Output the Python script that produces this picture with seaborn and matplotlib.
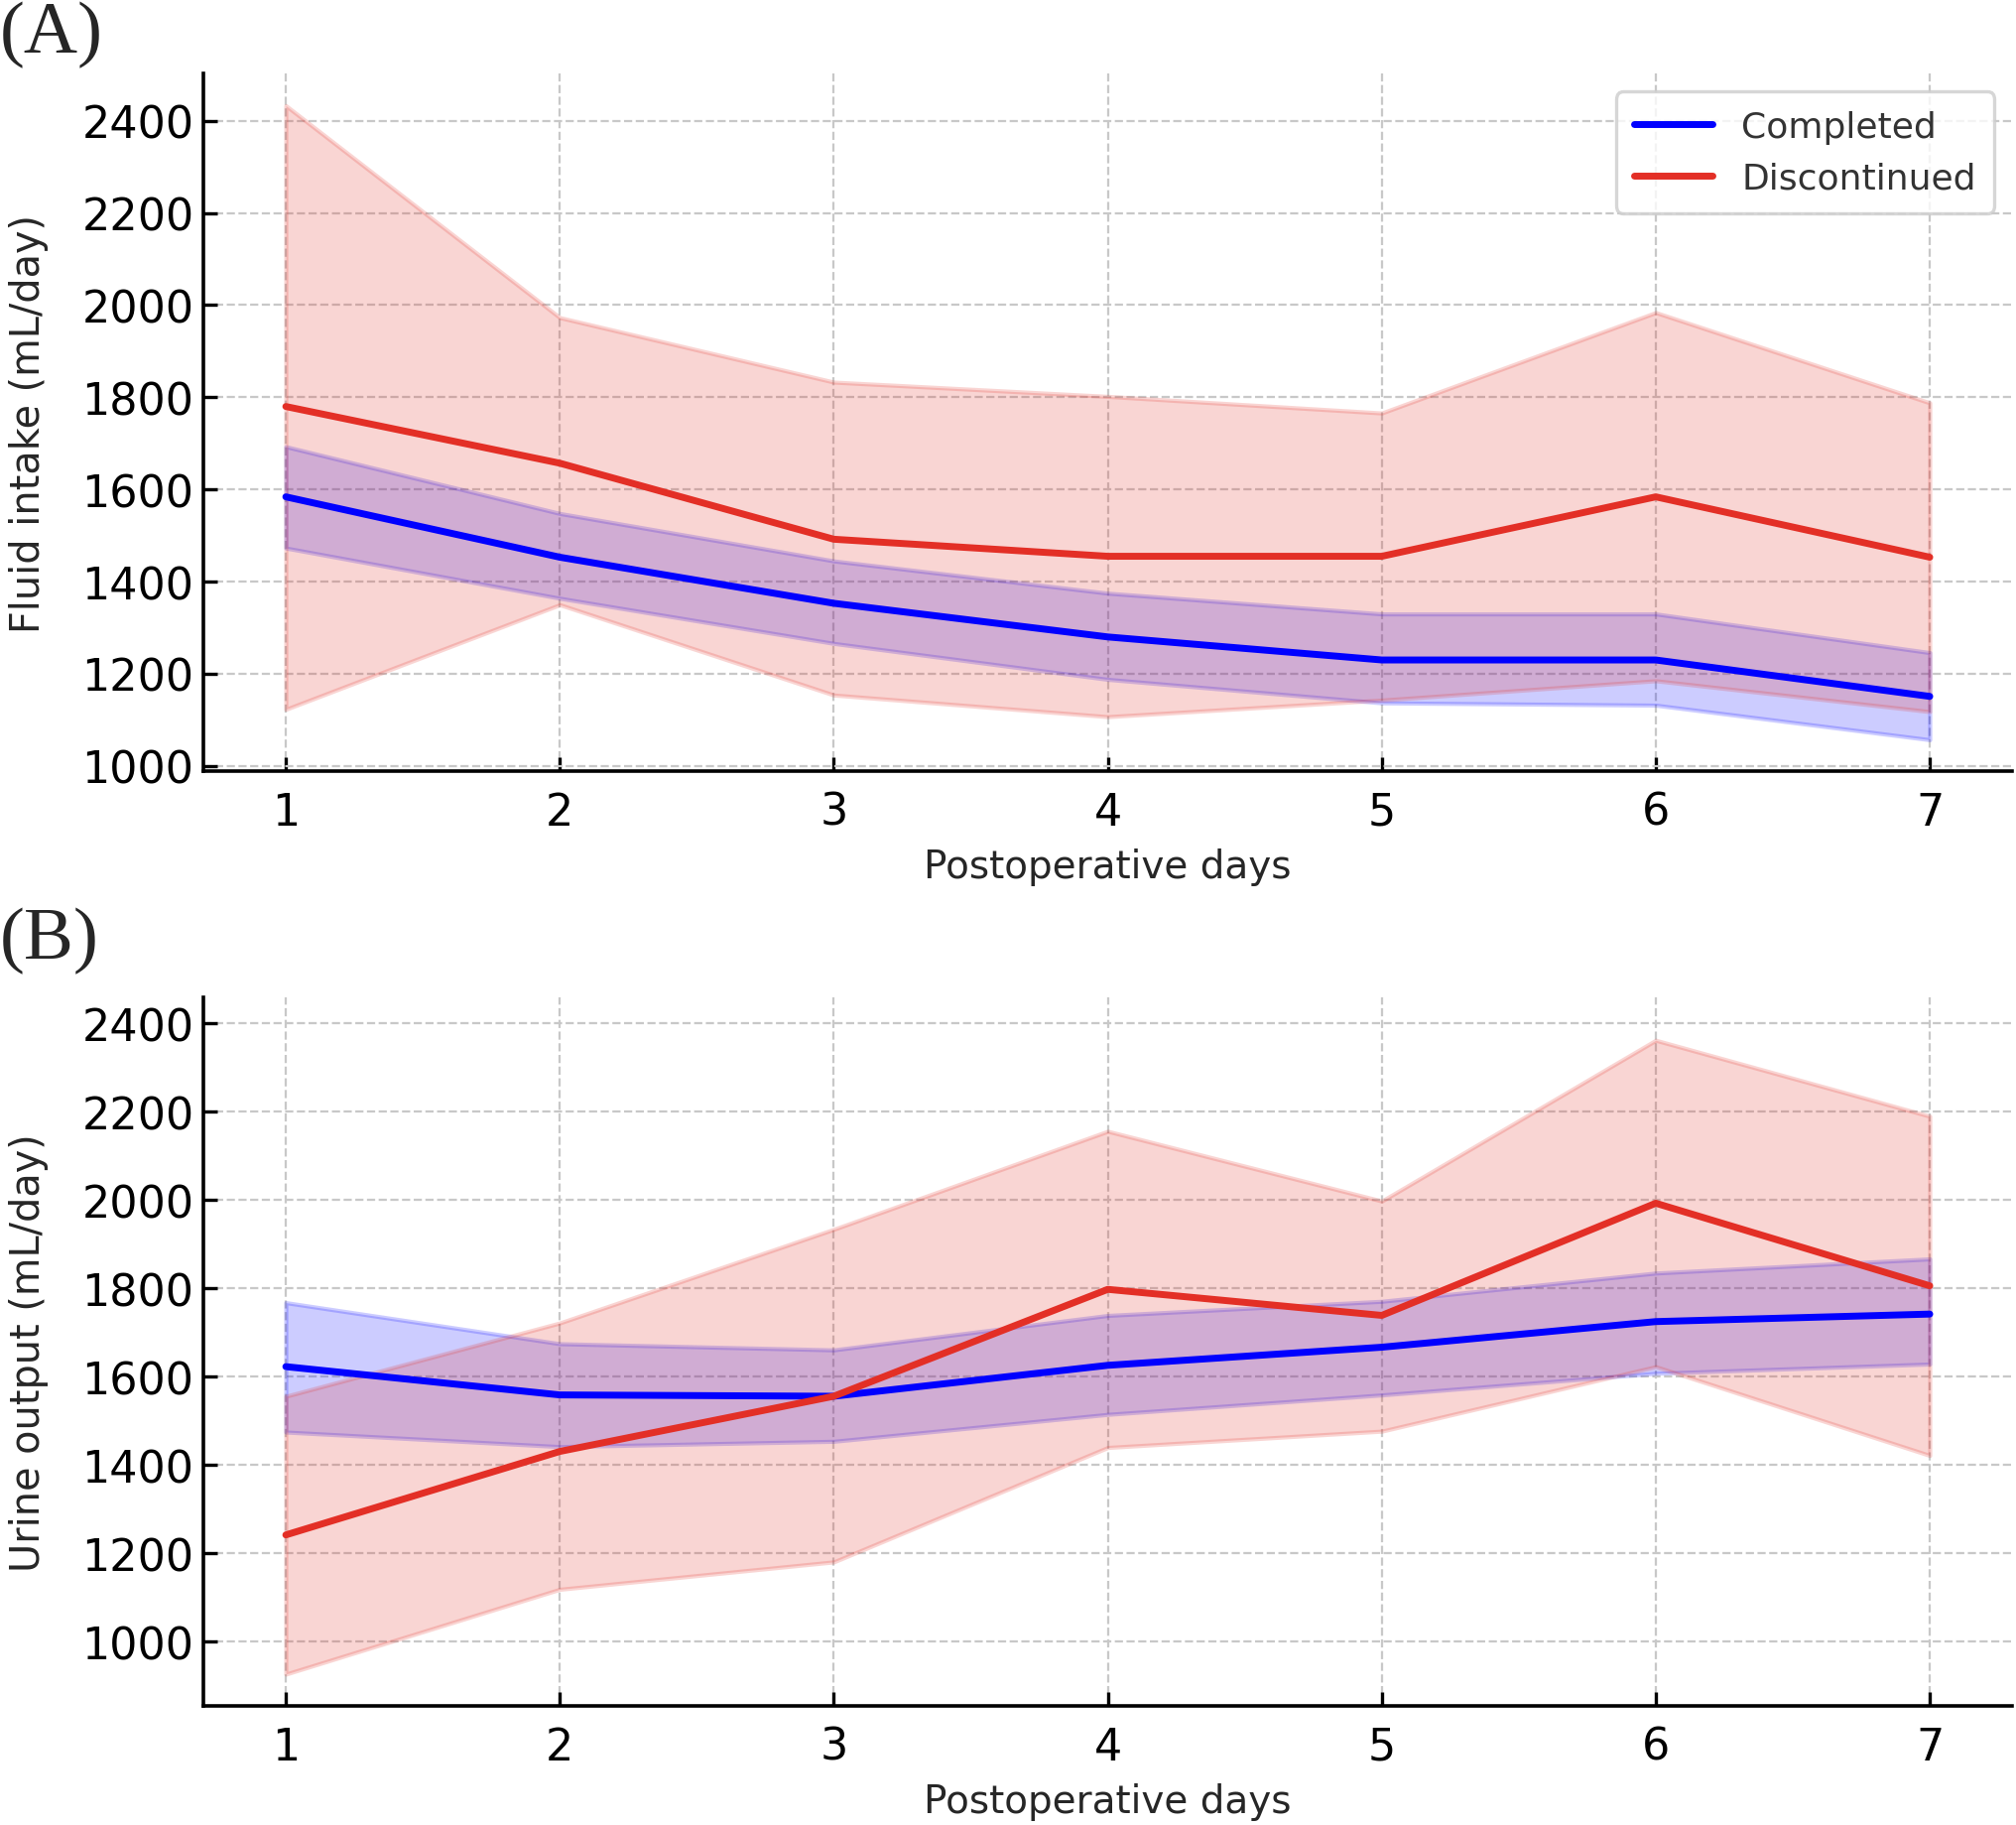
import numpy as np
import pandas as pd
import matplotlib
matplotlib.use("Agg")
import matplotlib.pyplot as plt
import seaborn as sns

days = [1, 2, 3, 4, 5, 6, 7]

# (A) fluid intake
intake_comp_mean = [1584, 1453, 1353, 1280, 1230, 1230, 1151]
intake_comp_upper = [1693, 1548, 1445, 1375, 1330, 1330, 1246]
intake_comp_lower = [1473, 1364, 1266, 1188, 1137, 1132, 1057]
intake_disc_mean = [1780, 1657, 1492, 1455, 1455, 1584, 1453]
intake_disc_upper = [2433, 1973, 1833, 1802, 1766, 1984, 1788]
intake_disc_lower = [1123, 1350, 1154, 1107, 1143, 1185, 1118]

# (B) urine output
urine_comp_mean = [1623, 1559, 1556, 1626, 1667, 1725, 1742]
urine_comp_upper = [1768, 1675, 1661, 1739, 1771, 1835, 1867]
urine_comp_lower = [1475, 1442, 1454, 1515, 1559, 1608, 1629]
urine_disc_mean = [1242, 1431, 1556, 1798, 1739, 1993, 1806]
urine_disc_upper = [1556, 1722, 1934, 2156, 1998, 2362, 2190]
urine_disc_lower = [927, 1119, 1181, 1440, 1477, 1623, 1422]

groups = ["Completed", "Discontinued"]
colors = {"Completed": "#0000ff", "Discontinued": "#e32f26"}

sns.set_theme(style="ticks")
plt.rcParams['font.family'] = ['DejaVu Sans']

fig = plt.figure(figsize=(10.16, 9.2), dpi=200)
ax_a = fig.add_axes([0.101, 0.577, 0.897, 0.382])
ax_b = fig.add_axes([0.101, 0.065, 0.897, 0.388])

panels = [
    (ax_a, "Fluid intake (mL/day)", None,
     {"Completed": (intake_comp_mean, intake_comp_lower, intake_comp_upper),
      "Discontinued": (intake_disc_mean, intake_disc_lower, intake_disc_upper)}),
    (ax_b, "Urine output (mL/day)", (854, 2458),
     {"Completed": (urine_comp_mean, urine_comp_lower, urine_comp_upper),
      "Discontinued": (urine_disc_mean, urine_disc_lower, urine_disc_upper)}),
]

for ax, ylabel, ylim, series in panels:
    rows = []
    for g in groups:
        m, lo, hi = series[g]
        for d, v in zip(days, m):
            rows.append({"day": d, "value": v, "group": g})
        ax.fill_between(days, lo, hi, color=colors[g], alpha=0.2, linewidth=1.5)
    df = pd.DataFrame(rows)
    sns.lineplot(data=df, x="day", y="value", hue="group", palette=colors,
                 linewidth=2.5, ax=ax, legend=(ax is ax_a))
    ax.set_xticks(days)
    ax.set_yticks(range(1000, 2401, 200))
    if ylim:
        ax.set_ylim(*ylim)
    ax.set_xlabel("Postoperative days", fontsize=14, labelpad=5)
    ax.set_ylabel(ylabel, fontsize=14.3, labelpad=12)
    ax.tick_params(direction="in", length=5, width=1.2, labelsize=16, colors="black")
    ax.tick_params(axis="x", pad=7)
    ax.grid(True, linestyle="--", color="#c8c8c8", linewidth=0.8)
    ax.set_axisbelow(True)
    for s in ["top", "right"]:
        ax.spines[s].set_visible(False)
    for s in ["left", "bottom"]:
        ax.spines[s].set_linewidth(1.3)
        ax.spines[s].set_color("black")

leg = ax_a.legend(title=None, fontsize=13, loc="upper right", frameon=True,
                  handlelength=2.2, borderpad=0.5)
leg.get_frame().set_edgecolor("#cccccc")
leg.get_frame().set_linewidth(1.2)
for t in leg.get_texts():
    t.set_color("#333333")

fig.text(0.0, 0.999, "(A)", family="Liberation Serif", fontsize=27, va="top", ha="left")
fig.text(0.0, 0.503, "(B)", family="Liberation Serif", fontsize=27, va="top", ha="left")

fig.savefig("out.png", dpi=200)
